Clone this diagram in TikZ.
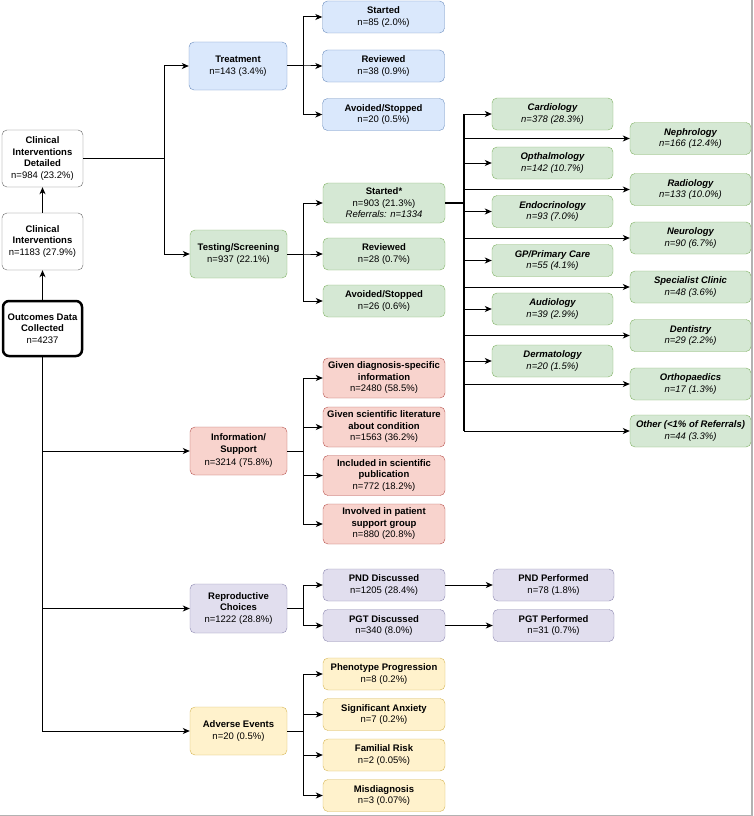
\documentclass[tikz,border=0pt]{standalone}
\usepackage{fontspec}
\setmainfont{Liberation Sans}
\usetikzlibrary{arrows.meta}

\definecolor{bluefill}{HTML}{DAE8FC}
\definecolor{blueline}{HTML}{6C8EBF}
\definecolor{greenfill}{HTML}{D5E8D4}
\definecolor{greenline}{HTML}{82B366}
\definecolor{redfill}{HTML}{F8D3CD}
\definecolor{redline}{HTML}{B85450}
\definecolor{purplefill}{HTML}{E1DEEE}
\definecolor{purpleline}{HTML}{8D88B0}
\definecolor{yellowfill}{HTML}{FFF2CC}
\definecolor{yellowline}{HTML}{D6B656}

\tikzset{
  box/.style={draw,rounded corners=5pt,align=center,inner sep=1pt,
    font=\fontsize{9.5}{11.5}\selectfont,minimum height=32pt},
  whitebox/.style={box,draw=black!60,fill=white,minimum width=81pt,minimum height=57pt},
  bluebox/.style={box,draw=blueline,fill=bluefill},
  greenbox/.style={box,draw=greenline,fill=greenfill},
  redbox/.style={box,draw=redline,fill=redfill},
  purplebox/.style={box,draw=purpleline,fill=purplefill},
  yellowbox/.style={box,draw=yellowline,fill=yellowfill},
  arr/.style={-{Stealth[length=7pt,width=6pt,inset=2pt]},line width=1pt}
}

\begin{document}
\begin{tikzpicture}[x=1pt,y=-1pt]
  \useasboundingbox (0,0) rectangle (753,816);
  \draw[black!30,line width=1.5pt] (752,0) -- (752,815.5) -- (0,815.5);

  % first column
  \node[whitebox] (clindet) at (42.5,158.5) {\textbf{Clinical}\\\textbf{Interventions}\\\textbf{Detailed}\\n=984 (23.2\%)};
  \node[whitebox] (clin) at (42.5,241.5) {\textbf{Clinical}\\\textbf{Interventions}\\n=1183 (27.9\%)};
  \node[whitebox,draw=black,line width=2.5pt,rounded corners=6pt,minimum width=79pt,minimum height=55pt] (outcomes) at (42.5,328.5) {\textbf{Outcomes Data}\\\textbf{Collected}\\n=4237};

  % second column
  \node[bluebox,minimum width=98pt,minimum height=48pt] (treat) at (238,66) {\textbf{Treatment}\\n=143 (3.4\%)};
  \node[greenbox,minimum width=97pt,minimum height=48pt] (testing) at (238.5,254) {\textbf{Testing/Screening}\\n=937 (22.1\%)};
  \node[redbox,minimum width=97pt,minimum height=48pt] (info) at (238.5,451) {\textbf{Information/}\\\textbf{Support}\\[2pt]n=3214 (75.8\%)};
  \node[purplebox,minimum width=97pt,minimum height=49pt] (repro) at (238.5,608.5) {\textbf{Reproductive}\\\textbf{Choices}\\n=1222 (28.8\%)};
  \node[yellowbox,minimum width=97pt,minimum height=48pt] (adverse) at (238.5,731) {\textbf{Adverse Events}\\n=20 (0.5\%)};

  % treatment
  \begin{scope}[every node/.append style={minimum width=122pt}]
  \node[bluebox] (tstart) at (383.5,17) {\textbf{Started}\\n=85 (2.0\%)};
  \node[bluebox] (trev) at (383.5,66) {\textbf{Reviewed}\\n=38 (0.9\%)};
  \node[bluebox] (tavoid) at (383.5,114.5) {\textbf{Avoided/Stopped}\\n=20 (0.5\%)};

  % testing/screening
  \node[greenbox,minimum height=40pt] (sstart) at (384,203) {\textbf{Started*}\\n=903 (21.3\%)\\\textit{Referrals: n=1334}};
  \node[greenbox] (srev) at (384,254) {\textbf{Reviewed}\\n=28 (0.7\%)};
  \node[greenbox] (savoid) at (384,301) {\textbf{Avoided/Stopped}\\n=26 (0.6\%)};

  % information/support
  \node[redbox,minimum height=40pt] (idiag) at (384,378) {\textbf{Given diagnosis-specific}\\\textbf{information}\\n=2480 (58.5\%)};
  \node[redbox,minimum height=40pt] (ilit) at (384,427) {\textbf{Given scientific literature}\\\textbf{about condition}\\n=1563 (36.2\%)};
  \node[redbox,minimum height=40pt] (ipub) at (384,475.5) {\textbf{Included in scientific}\\\textbf{publication}\\n=772 (18.2\%)};
  \node[redbox,minimum height=40pt] (igroup) at (384,524) {\textbf{Involved in patient}\\\textbf{support group}\\n=880 (20.8\%)};

  % reproductive choices
  \node[purplebox] (pnd) at (384,585) {\textbf{PND Discussed}\\n=1205 (28.4\%)};
  \node[purplebox] (pgt) at (384,625.5) {\textbf{PGT Discussed}\\n=340 (8.0\%)};
  \node[purplebox,minimum width=121pt] (pndperf) at (553.5,585) {\textbf{PND Performed}\\n=78 (1.8\%)};
  \node[purplebox,minimum width=121pt] (pgtperf) at (553.5,625.5) {\textbf{PGT Performed}\\n=31 (0.7\%)};

  % adverse events
  \node[yellowbox] (pheno) at (384,674) {\textbf{Phenotype Progression}\\n=8 (0.2\%)};
  \node[yellowbox] (anx) at (384,714.5) {\textbf{Significant Anxiety}\\n=7 (0.2\%)};
  \node[yellowbox] (famrisk) at (384,755) {\textbf{Familial Risk}\\n=2 (0.05\%)};
  \node[yellowbox] (misdiag) at (384,795.5) {\textbf{Misdiagnosis}\\n=3 (0.07\%)};
  \end{scope}

  % referrals
  \begin{scope}[every node/.append style={greenbox,minimum width=121pt,font=\fontsize{9.5}{11.5}\selectfont\itshape}]
  \node (cardio) at (552.5,114) {\textbf{Cardiology}\\n=378 (28.3\%)};
  \node (optha) at (552.5,163) {\textbf{Opthalmology}\\n=142 (10.7\%)};
  \node (endo) at (552.5,211.5) {\textbf{Endocrinology}\\n=93 (7.0\%)};
  \node (gp) at (552.5,260.5) {\textbf{GP/Primary Care}\\n=55 (4.1\%)};
  \node (audio) at (552.5,309) {\textbf{Audiology}\\n=39 (2.9\%)};
  \node (derm) at (552.5,361) {\textbf{Dermatology}\\n=20 (1.5\%)};
  \node (neph) at (690.5,138.5) {\textbf{Nephrology}\\n=166 (12.4\%)};
  \node (radio) at (690.5,189.5) {\textbf{Radiology}\\n=133 (10.0\%)};
  \node (neuro) at (690.5,238) {\textbf{Neurology}\\n=90 (6.7\%)};
  \node (spec) at (690.5,287) {\textbf{Specialist Clinic}\\n=48 (3.6\%)};
  \node (dent) at (690.5,335.5) {\textbf{Dentistry}\\n=29 (2.2\%)};
  \node (ortho) at (690.5,384) {\textbf{Orthopaedics}\\n=17 (1.3\%)};
  \node (other) at (690.5,431) {\textbf{Other (<1\% of Referrals)}\\n=44 (3.3\%)};
  \end{scope}

  % connectors
  \coordinate (cisplit) at (164,158.5);
  \coordinate (refsplit) at (464,203);
  \draw[arr] (outcomes.north) -- (clin.south);
  \draw[arr] (clin.north) -- (clindet.south);
  \draw[line width=1pt] (clindet.east) -- (cisplit);
  \draw[arr] (cisplit) |- (treat.west);
  \draw[arr] (cisplit) |- (testing.west);
  \draw[arr] (outcomes.south) |- (info.west);
  \draw[arr] (outcomes.south) |- (repro.west);
  \draw[arr] (outcomes.south) |- (adverse.west);

  \foreach \a/\b in {treat/tstart,treat/trev,treat/tavoid,
      testing/sstart,testing/srev,testing/savoid,
      info/idiag,info/ilit,info/ipub,info/igroup,
      repro/pnd,repro/pgt,
      adverse/pheno,adverse/anx,adverse/famrisk,adverse/misdiag}
    \draw[arr] (\a.east) -- ++(16,0) |- (\b.west);

  \draw[arr] (pnd.east) -- (pndperf.west);
  \draw[arr] (pgt.east) -- (pgtperf.west);

  \draw[line width=2pt] (sstart.east) -- (refsplit);
  \draw[line width=1.6pt] (refsplit |- cardio) -- (refsplit |- other);
  \foreach \b in {cardio,optha,endo,gp,audio,derm,neph,radio,neuro,spec,dent,ortho,other}
    \draw[arr] (refsplit |- \b) -- (\b.west);
\end{tikzpicture}
\end{document}
